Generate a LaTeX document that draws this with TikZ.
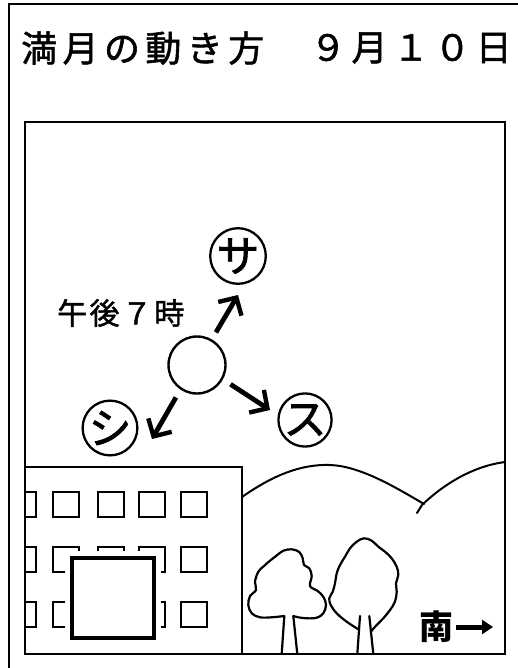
\documentclass[tikz,border=0pt]{standalone}
\usepackage{fontspec}
\newfontfamily\jpfont{Noto Sans CJK JP}
\usetikzlibrary{arrows.meta}

\tikzset{
  ink/.style={draw=black, line width=2.2pt, line join=round, line cap=round},
  framepen/.style={draw=black, line width=2.5pt},
  windowpen/.style={draw=black, line width=2.4pt},
  kana/.style={circle, draw, line width=2.3pt, minimum size=51pt, inner sep=0pt,
    font=\jpfont\addfontfeatures{FakeBold=1.6}\fontsize{43}{43}\selectfont},
  moonarrow/.style={line width=4.8pt, shorten <=8pt,
    -{Straight Barb[length=13pt,width=27pt,line width=4.4pt]}},
  titletext/.style={inner sep=0pt,
    font={\jpfont\addfontfeatures{LetterSpace=15,CharacterWidth=Full,FakeBold=1.5}\fontsize{36}{36}\selectfont}},
}

\begin{document}
\begin{tikzpicture}[x=1pt,y=-1pt]
\useasboundingbox[fill=white] (0,0) rectangle (518,668);

% outer border (runs off the right and bottom edges)
\draw[line width=2pt] (9,668) -- (9,4) -- (520,4);

% title line
\node[titletext, anchor=west] (title) at (21,48) {満月の動き方};
\node[titletext, anchor=east] (date) at (512,48) {9月10日};

% scene frame
\draw[framepen] (25,122) rectangle (505,654);

% hills behind the building
\draw[ink, line width=2pt] (242,497) .. controls (272,476) and (300,464) .. (330,465)
  .. controls (360,466) and (395,487) .. (424,504);
\draw[ink, line width=2pt] (417,513) -- (422,505) .. controls (445,483) and (474,466) .. (505,462);

% school building
\draw[framepen] (25,467) -- (242,467) -- (242,654);
\foreach \y in {492,547,602}{
  \draw[windowpen] (25,\y) -- (36,\y) -- (36,\y+25) -- (25,\y+25);
  \foreach \x in {53,98,139,181}{
    \draw[windowpen] (\x,\y) rectangle (\x+26,\y+25);
  }
}
% large square standing in front of the lower windows
\fill[white] (65,551) rectangle (161,645);
\draw[line width=3.2pt] (72,558) rectangle (154,638);

% trees
\draw[ink] plot[smooth, tension=0.6] coordinates {
  (284.3,616) (271.7,617.3) (260,617.3) (251.7,613.3) (248.3,605) (250,596) (256,590)
  (255,581.7) (258.3,571.7) (264,566) (270,560.7) (276,556) (283.3,550.7) (291.7,549.3)
  (299.3,552) (302.7,558.3) (304,565) (309.3,568.3) (311.7,576) (310,586) (317.3,590.7)
  (323.3,596.7) (326,605) (323.3,613.3) (316.7,617.7) (306.7,618.3) (298.3,617.3) (293.3,616)};
\draw[ink] (284.3,616) -- (281.7,654);
\draw[ink] (293.3,616) -- (297.3,654);

\draw[ink] plot[smooth, tension=0.6] coordinates {
  (358.3,629.3) (346.7,621.7) (336.7,613.3) (330.7,605) (329.3,598.3) (332.7,591.7)
  (335,583.3) (336.7,573.3) (340,565) (345,556.7) (350,548.3) (356.7,541.7) (364,538.3)
  (371.7,540.7) (378.3,546.7) (385,551.7) (391.7,558.3) (396.7,566.7) (398.3,575)
  (396,583.3) (396.7,591.7) (395,601.7) (390,610) (383.3,618.3) (376.7,625) (370.7,631.7)};
\draw[ink] (360,616) -- (357.3,654);
\draw[ink] (369.3,616) -- (373.3,654);

% direction label
\node[inner sep=0pt, font=\jpfont\bfseries\fontsize{34}{34}\selectfont] (south) at (436,627) {南};
\coordinate (southTip) at (493,627);
\draw[line width=5pt, -{Triangle[length=11pt,width=14pt]}] (south.east) ++(3,0) -- (southTip);

% the full moon and its three possible paths
\node[circle, draw, line width=2.4pt, minimum size=57pt, inner sep=0pt] (moon) at (197,365) {};
\node[inner sep=0pt, anchor=west,
  font={\jpfont\addfontfeatures{LetterSpace=8,CharacterWidth=Full,FakeBold=1.5}\fontsize{30}{30}\selectfont}]
  (time) at (57,313) {午後7時};

\node[kana] (sa) at (238,256) {サ};
\node[kana] (su) at (305,420) {ス};
\node[kana] (shi) at (110,428) {シ};

\coordinate (saTip) at (238,295);
\coordinate (suTip) at (270,410);
\coordinate (shiTip) at (152,439);
\draw[moonarrow] (moon.60) -- (saTip);
\draw[moonarrow, shorten <=9pt] (moon.-29) -- (suTip);
\draw[moonarrow, shorten <=9pt] (moon.236) -- (shiTip);
\end{tikzpicture}
\end{document}
